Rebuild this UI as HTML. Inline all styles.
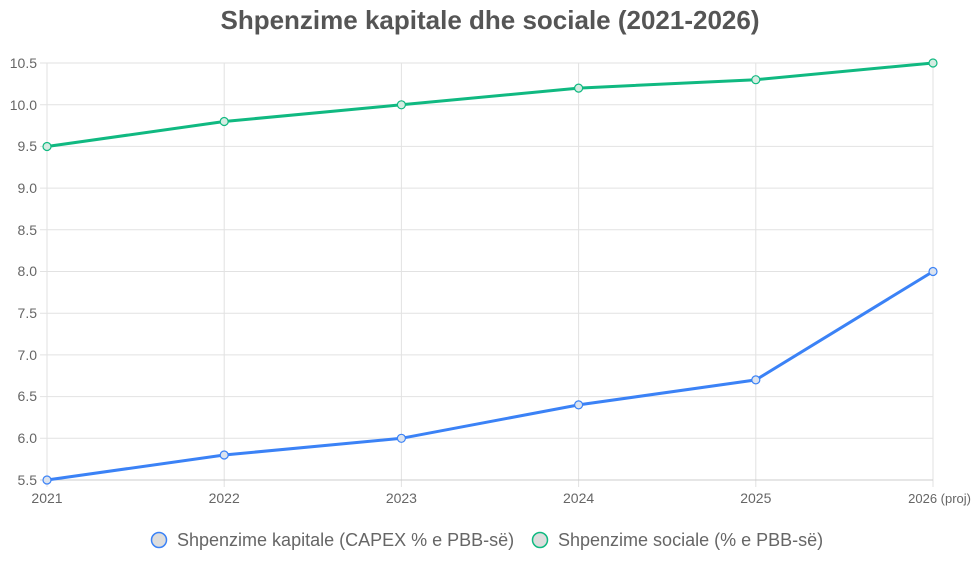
<!DOCTYPE html><html><head><style>body{margin:0;background:#fff}</style></head><body>
<svg width="975" height="562" xmlns="http://www.w3.org/2000/svg" font-family="Liberation Sans, sans-serif">
<text x="490" y="29" text-anchor="middle" font-size="26" font-weight="bold" fill="#555">Shpenzime kapitale dhe sociale (2021-2026)</text>
<g stroke="#e2e2e2" stroke-width="1">
<line x1="40" y1="63" x2="933" y2="63"/><line x1="40" y1="104.7" x2="933" y2="104.7"/><line x1="40" y1="146.4" x2="933" y2="146.4"/><line x1="40" y1="188.1" x2="933" y2="188.1"/><line x1="40" y1="229.8" x2="933" y2="229.8"/><line x1="40" y1="271.5" x2="933" y2="271.5"/><line x1="40" y1="313.2" x2="933" y2="313.2"/><line x1="40" y1="354.9" x2="933" y2="354.9"/><line x1="40" y1="396.6" x2="933" y2="396.6"/><line x1="40" y1="438.3" x2="933" y2="438.3"/>
<line x1="47" y1="63" x2="47" y2="487"/><line x1="224.2" y1="63" x2="224.2" y2="487"/><line x1="401.4" y1="63" x2="401.4" y2="487"/><line x1="578.6" y1="63" x2="578.6" y2="487"/><line x1="755.8" y1="63" x2="755.8" y2="487"/><line x1="933" y1="63" x2="933" y2="487"/>
</g>
<line x1="40" y1="480" x2="933" y2="480" stroke="#ccc"/>
<g font-size="14" fill="#666" text-anchor="end">
<text x="37" y="68">10.5</text><text x="37" y="110">10.0</text><text x="37" y="151">9.5</text><text x="37" y="193">9.0</text><text x="37" y="235">8.5</text><text x="37" y="276">8.0</text><text x="37" y="318">7.5</text><text x="37" y="360">7.0</text><text x="37" y="401">6.5</text><text x="37" y="443">6.0</text><text x="37" y="485">5.5</text>
</g>
<g font-size="14" fill="#666" text-anchor="middle">
<text x="47" y="503">2021</text><text x="224.2" y="503">2022</text><text x="401.4" y="503">2023</text><text x="578.6" y="503">2024</text><text x="755.8" y="503">2025</text><text x="971" y="503" text-anchor="end" font-size="13">2026 (proj)</text>
</g>
<polyline fill="none" stroke="#3b82f6" stroke-width="3" points="47,480 224.2,455 401.4,438.3 578.6,404.9 755.8,379.9 933,271.5"/>
<polyline fill="none" stroke="#10b981" stroke-width="3" points="47,146.5 224.2,121.5 401.4,104.8 578.6,88.1 755.8,79.7 933,63"/>
<g fill="#dbe3ef" stroke="#3b82f6" stroke-width="1.2">
<circle cx="47" cy="480" r="4"/><circle cx="224.2" cy="455" r="4"/><circle cx="401.4" cy="438.3" r="4"/><circle cx="578.6" cy="404.9" r="4"/><circle cx="755.8" cy="379.9" r="4"/><circle cx="933" cy="271.5" r="4"/>
</g>
<g fill="#d5ece2" stroke="#10b981" stroke-width="1.2">
<circle cx="47" cy="146.5" r="4"/><circle cx="224.2" cy="121.5" r="4"/><circle cx="401.4" cy="104.8" r="4"/><circle cx="578.6" cy="88.1" r="4"/><circle cx="755.8" cy="79.7" r="4"/><circle cx="933" cy="63" r="4"/>
</g>
<circle cx="159" cy="540" r="7.5" fill="#ddd" stroke="#3b82f6" stroke-width="1.5"/>
<text x="177" y="546" font-size="18" fill="#666">Shpenzime kapitale (CAPEX % e PBB-së)</text>
<circle cx="540" cy="540" r="7.5" fill="#ddd" stroke="#10b981" stroke-width="1.5"/>
<text x="558" y="546" font-size="18" fill="#666">Shpenzime sociale (% e PBB-së)</text>
</svg></body></html>
